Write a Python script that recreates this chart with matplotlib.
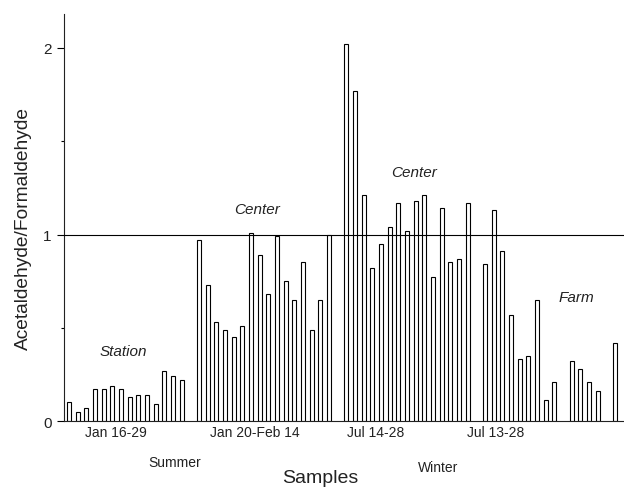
import numpy as np
import matplotlib
matplotlib.use("Agg")
import matplotlib.pyplot as plt

plt.rcParams['font.family'] = ['Liberation Sans', 'DejaVu Sans']

# Data (ratio Acetaldehyde/Formaldehyde), NaN = missing sample
station = [0.10, 0.05, 0.07, 0.17, 0.17, 0.19, 0.17, 0.13, 0.14, 0.14, 0.09, 0.27, 0.24, 0.22]
center_summer = [0.97, 0.73, 0.53, 0.49, 0.45, 0.51, 1.01, 0.89, 0.68, 0.99, 0.75, 0.65,
                 0.85, 0.49, 0.65, 1.00]
center_winter = [2.02, 1.77, 1.21, 0.82, 0.95, 1.04, 1.17, 1.02, 1.18, 1.21, 0.77, 1.14,
                 0.85, 0.87, 1.17]
farm = [0.84, 1.13, 0.91, 0.57, 0.33, 0.35, 0.65, 0.11, 0.21, np.nan, 0.32, 0.28, 0.21,
        0.16, np.nan, 0.42]

period_labels = ["Jan 16-29", "Jan 20-Feb 14", "Jul 14-28", "Jul 13-28"]
site_labels = ["Station", "Center", "Center", "Farm"]
season_labels = ["Summer", "Winter"]

# Build sample sequence with one empty slot between groups
groups = [station, center_summer, center_winter, farm]
values = []
for k, g in enumerate(groups):
    if k > 0:
        values.append(np.nan)
    values.extend(g)
values = np.array(values, dtype=float)
x = np.arange(len(values))
mask = ~np.isnan(values)

fig = plt.figure(figsize=(6.24, 4.89), dpi=100)
ax = fig.add_axes([64/624, 1-422/489, 1-64/624, (422-15)/489])

ax.bar(x[mask], values[mask], width=0.48, color='white', edgecolor='black',
       linewidth=0.8, zorder=2)
ax.axhline(1.0, color='black', linewidth=0.8, zorder=3)

ax.set_xlim((64-69)/8.667, (624-69)/8.667)
ax.set_ylim(0, (422-15)/186.5)

for s in ['top', 'right']:
    ax.spines[s].set_visible(False)
for s in ['left', 'bottom']:
    ax.spines[s].set_linewidth(0.8)
    ax.spines[s].set_color('#222222')

ax.set_yticks([0, 1, 2])
ax.set_yticklabels(['0', '1', '2'], fontsize=11, color='#222222')
ax.set_yticks([0.5, 1.5], minor=True)
ax.tick_params(axis='y', which='major', length=5, width=0.8, direction='out', pad=4)
ax.tick_params(axis='y', which='minor', length=2.5, width=0.8, direction='out')

tick_pos = [5.37, 21.46, 35.36, 49.27]
ax.set_xticks(tick_pos)
ax.set_xticklabels(period_labels, fontsize=10, color='#222222')
ax.tick_params(axis='x', length=0, pad=3)

ax.set_ylabel("Acetaldehyde/Formaldehyde", fontsize=13.8, color='#222222')
ax.yaxis.set_label_coords(-(64-32)/560, (422-229)/407)

site_pos = [(6.29, 0.375), (21.7, 1.137), (39.8, 1.337), (58.56, 0.666)]
for (px, py), lab in zip(site_pos, site_labels):
    ax.text(px, py, lab, fontsize=11, style='italic', ha='center', va='center',
            color='#222222')

season_pos = [(175/624, 1-463/489), (438.5/624, 1-468/489)]
for (px, py), lab in zip(season_pos, season_labels):
    fig.text(px, py, lab, fontsize=10, ha='center', va='center', color='#222222')

fig.text(320/624, 1.5/489, "Samples", fontsize=14, ha='center', va='bottom',
         color='#222222')

fig.savefig("out.png", dpi=100)
